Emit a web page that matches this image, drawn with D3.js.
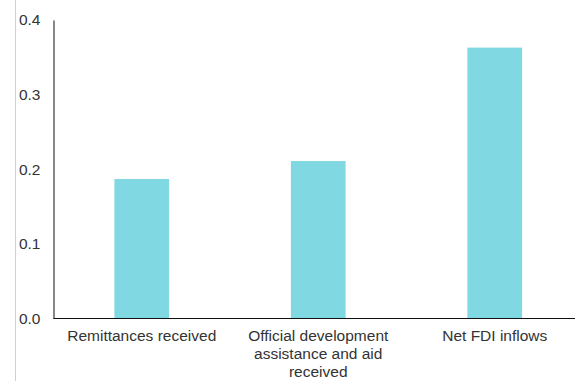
<!DOCTYPE html>
<html>
<head>
<meta charset="utf-8">
<script src="https://cdn.jsdelivr.net/npm/d3@7"></script>
<style>
  html, body { margin: 0; padding: 0; background: #fff; }
  svg { display: block; }
  text { font-family: "Liberation Sans", Arial, sans-serif; }
</style>
</head>
<body>
<svg id="chart" width="575" height="381"></svg>
<script>
const categories = [
  ["Remittances received"],
  ["Official development", "assistance and aid", "received"],
  ["Net FDI inflows"]
];
const values = [0.187, 0.211, 0.363];
const yTicks = [0.0, 0.1, 0.2, 0.3, 0.4];

const svg = d3.select("#chart");
const W = 575, H = 381;
const margin = { left: 53.5, top: 20, bottom: 62.5 };
const plotBottom = H - margin.bottom;

// light frame line at left
svg.append("line")
  .attr("x1", 15.5).attr("x2", 15.5).attr("y1", 0).attr("y2", H)
  .attr("stroke", "#d0d0d0").attr("stroke-width", 1);

const idx = categories.map((d, i) => i);
const x = d3.scaleBand().domain(idx).range([margin.left, margin.left + 3 * 176.5]).paddingInner(0.69).paddingOuter(0.345);
const y = d3.scaleLinear().domain([0, 0.4]).range([plotBottom, margin.top]);

// bars
svg.append("g").selectAll("rect").data(values).join("rect")
  .attr("x", (d, i) => x(i))
  .attr("width", x.bandwidth())
  .attr("y", d => y(d))
  .attr("height", d => y(0) - y(d))
  .attr("fill", "#80d8e2");

// y axis
const yAxis = d3.axisLeft(y).tickValues(yTicks).tickFormat(d3.format(".1f")).tickSize(0).tickPadding(13);
const gy = svg.append("g").attr("transform", `translate(${margin.left},0)`).call(yAxis);
gy.select(".domain").attr("stroke", "#111");
gy.selectAll("text").attr("font-size", 15.5).attr("fill", "#333").attr("font-family", "Liberation Sans, Arial, sans-serif");

// x axis
const xAxis = d3.axisBottom(x).tickSize(0).tickFormat(() => "");
const gx = svg.append("g").attr("transform", `translate(0,${plotBottom})`).call(xAxis);
gx.select(".domain").attr("d", `M${margin.left},0H${W}`).attr("stroke", "#111");

// category labels
const lbl = svg.append("g").selectAll("text").data(categories).join("text")
  .attr("text-anchor", "middle")
  .attr("font-size", 15.5)
  .attr("fill", "#333")
  .attr("x", (d, i) => x(i) + x.bandwidth() / 2)
  .attr("y", plotBottom + 22);
lbl.each(function(d) {
  const t = d3.select(this);
  d.forEach((line, j) => {
    t.append("tspan").attr("x", t.attr("x")).attr("dy", j === 0 ? 0 : 18).text(line);
  });
});
</script>
</body>
</html>
